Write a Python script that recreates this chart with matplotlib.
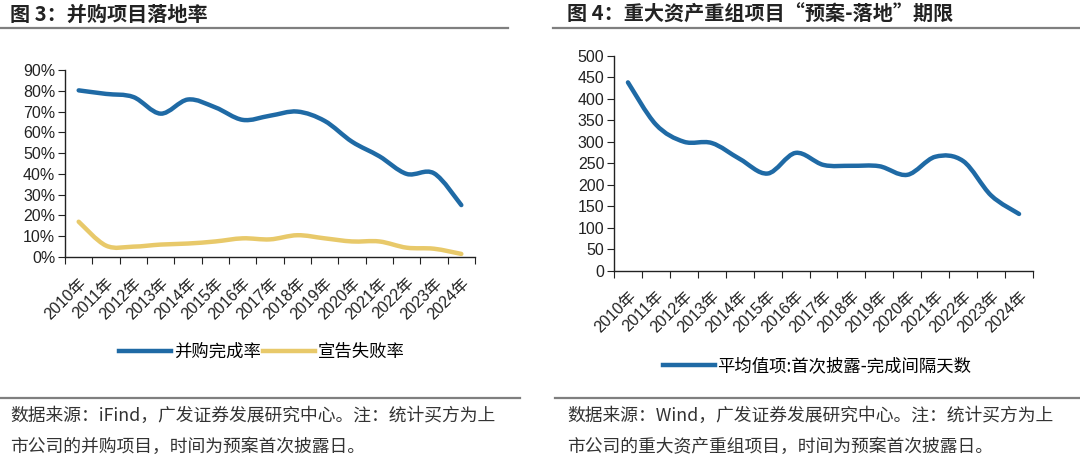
import numpy as np
import matplotlib
matplotlib.use("Agg")
import matplotlib.pyplot as plt
from matplotlib.path import Path
from matplotlib.patches import PathPatch
from matplotlib.lines import Line2D

plt.rcParams['font.family'] = ['Liberation Sans', 'Noto Sans CJK SC', 'DejaVu Sans']

# dados
years = ["2010年", "2011年", "2012年", "2013年", "2014年", "2015年", "2016年", "2017年",
         "2018年", "2019年", "2020年", "2021年", "2022年", "2023年", "2024年"]
completion_rate = [80.2, 78.5, 77, 69, 75.8, 72, 66, 68, 70, 65.5, 55.5, 48.5, 40, 40.3, 25]
failure_rate = [17, 5.5, 5, 6, 6.5, 7.5, 9, 8.5, 10.5, 9, 7.5, 7.5, 4.5, 4, 1.5]
avg_days = [438, 340, 300, 297, 260, 226, 274, 246, 244, 243, 223, 265, 255, 175, 132]

BLUE = "#1f6aa5"
YELLOW = "#e8c96a"
CJK = ['Noto Sans CJK SC', 'DejaVu Sans']


def smooth_line(ax, x, y, color, lw=3.2):
    # curva suave tipo Excel (Catmull-Rom -> Bezier)
    x = np.asarray(x, float)
    y = np.asarray(y, float)
    verts = [(x[0], y[0])]
    codes = [Path.MOVETO]
    n = len(x)
    for i in range(n - 1):
        p0 = (x[max(i - 1, 0)], y[max(i - 1, 0)])
        p1 = (x[i], y[i])
        p2 = (x[i + 1], y[i + 1])
        p3 = (x[min(i + 2, n - 1)], y[min(i + 2, n - 1)])
        c1 = (p1[0] + (p2[0] - p0[0]) / 6, p1[1] + (p2[1] - p0[1]) / 6)
        c2 = (p2[0] - (p3[0] - p1[0]) / 6, p2[1] - (p3[1] - p1[1]) / 6)
        verts += [c1, c2, p2]
        codes += [Path.CURVE4] * 3
    patch = PathPatch(Path(verts, codes), fill=False, edgecolor=color, lw=lw,
                      capstyle='round', joinstyle='round')
    ax.add_patch(patch)


def style_axes(ax, ymax):
    n = len(years)
    ax.set_xlim(-0.5, n - 0.5)
    ax.set_ylim(0, ymax)
    for s in ['top', 'right']:
        ax.spines[s].set_visible(False)
    for s in ['left', 'bottom']:
        ax.spines[s].set_color('#222222')
        ax.spines[s].set_linewidth(1.0)
    ax.set_xticks(np.arange(-0.5, n, 1.0))
    ax.set_xticklabels([])
    ax.set_xticks(np.arange(n), minor=True)
    ax.set_xticklabels(years, minor=True, rotation=45, ha='right',
                       rotation_mode='anchor', fontsize=11.5, color='#222222')
    ax.tick_params(axis='x', which='major', length=5, direction='out', color='#222222')
    ax.tick_params(axis='x', which='minor', length=0, pad=13)
    ax.tick_params(axis='y', length=5, direction='out', labelsize=11.5,
                   color='#222222', labelcolor='#222222', pad=2)


fig = plt.figure(figsize=(10.8, 4.59), dpi=100)

# painel esquerdo
ax1 = fig.add_axes([0.0602, 0.440, 0.3796, 0.4075])
x = np.arange(len(years))
smooth_line(ax1, x, completion_rate, BLUE)
smooth_line(ax1, x, failure_rate, YELLOW)
style_axes(ax1, 90)
ax1.set_yticks(np.arange(0, 91, 10))
ax1.set_yticklabels([f"{v}%" for v in range(0, 91, 10)])
h1 = [Line2D([], [], color=BLUE, lw=3.2), Line2D([], [], color=YELLOW, lw=3.2)]
ax1.legend(h1, ["并购完成率", "宣告失败率"], loc='center', bbox_to_anchor=(262 / 1080, 1 - 352 / 459),
           bbox_transform=fig.transFigure, ncol=2, frameon=False, handlelength=3.0,
           columnspacing=0.15, handletextpad=0.15, prop={'family': CJK, 'size': 12.5})

# painel direito
ax2 = fig.add_axes([0.5685, 0.4102, 0.388, 0.4684])
smooth_line(ax2, x, avg_days, BLUE)
style_axes(ax2, 500)
ax2.set_yticks(np.arange(0, 501, 50))
h2 = [Line2D([], [], color=BLUE, lw=3.2)]
ax2.legend(h2, ["平均值项:首次披露-完成间隔天数"], loc='center', bbox_to_anchor=(817 / 1080, 1 - 366 / 459),
           bbox_transform=fig.transFigure, frameon=False, handlelength=3.0,
           handletextpad=0.15, prop={'family': CJK, 'size': 12.5})

# titulos e linhas
fig.text(10 / 1080, 1 - 14 / 459, "图 3：并购项目落地率", family=CJK, fontsize=14.5,
         fontweight='bold', va='center', ha='left', color='#222222')
fig.text(567 / 1080, 1 - 14 / 459, "图 4：重大资产重组项目“预案-落地”期限", family=CJK, fontsize=14.5,
         fontweight='bold', va='center', ha='left', color='#222222')
for x0, x1 in [(0, 508), (553, 1080)]:
    fig.add_artist(Line2D([x0 / 1080, x1 / 1080], [1 - 28 / 459] * 2, color='#7f7f7f', lw=1.6))
for x0, x1 in [(0, 520), (555, 1080)]:
    fig.add_artist(Line2D([x0 / 1080, x1 / 1080], [1 - 398 / 459] * 2, color='#7f7f7f', lw=1.6))

# fonte
notes = [
    (10, "数据来源：iFind，广发证券发展研究中心。注：统计买方为上", "市公司的并购项目，时间为预案首次披露日。"),
    (567, "数据来源：Wind，广发证券发展研究中心。注：统计买方为上", "市公司的重大资产重组项目，时间为预案首次披露日。"),
]
for xp, l1, l2 in notes:
    fig.text(xp / 1080, 1 - 416 / 459, l1, family=CJK, fontsize=12.8, va='center', color='#333333')
    fig.text(xp / 1080, 1 - 447 / 459, l2, family=CJK, fontsize=12.8, va='center', color='#333333')

fig.savefig("out.png", dpi=100, facecolor='white')
